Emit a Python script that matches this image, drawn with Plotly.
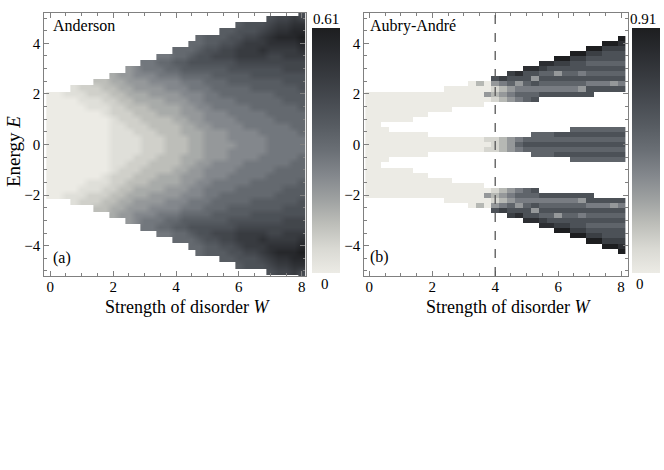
"""
Spectral maps for the Anderson and the Aubry-Andre models as a function of
the strength of disorder W. Grey level = value on each panel's colour bar.
"""

import numpy as np
import plotly.graph_objects as go

# disorder strength W at the centre of each column (both panels)
w_values = [0.0, 0.25, 0.5, 0.75, 1.0, 1.25, 1.5, 1.75, 2.0, 2.25, 2.5,
            2.75, 3.0, 3.25, 3.5, 3.75, 4.0, 4.25, 4.5, 4.75, 5.0, 5.25,
            5.5, 5.75, 6.0, 6.25, 6.5, 6.75, 7.0, 7.25, 7.5, 7.75, 8.0]

# energies of the rows for E >= 0 (the maps are mirrored to E < 0)
anderson_energies = [0.0, 0.25, 0.5, 0.75, 1.0, 1.25, 1.5, 1.75, 2.0, 2.25,
                     2.5, 2.75, 3.0, 3.25, 3.5, 3.75, 4.0, 4.25, 4.5, 4.75,
                     5.0, 5.25]
aubry_andre_energies = [0.0, 0.2, 0.4, 0.6, 0.8, 1.0, 1.2, 1.4, 1.6, 1.8,
                        2.0, 2.2, 2.4, 2.6, 2.8, 3.0, 3.2, 3.4, 3.6, 3.8,
                        4.0, 4.2, 4.4]

# one string per W column, read upwards from E = 0:
# hex digit = grey level (0 .. top level = colour-bar maximum),
# "." or missing = no states
anderson_top_level = 15
anderson_levels = [
    "000000000",
    "000000000",
    "000000001",
    "0000000011",
    "0000000112",
    "0000001122",
    "00000011223",
    "00000112233",
    "111112223344",
    "111122233445",
    "1112223344555",
    "1122233445566",
    "22223334455677",
    "22233344556677",
    "223334445567787",
    "333334455667887",
    "3333444556678988",
    "3344455566789988",
    "4444555667789a988",
    "4445556667789aa988",
    "5555666777889aaa99",
    "5556667778899aba99",
    "5556667788899abba99",
    "566667778899aabbaa9",
    "666677788899abccbaa9",
    "666777788899abcccbaa",
    "66677788899aabcccbaa",
    "66777788899aabcdccba",
    "77777888899aabbcddcba",
    "77778888999aabbcdedcb",
    "7777888999aabbccdedcb",
    "7778888999aabbccdeedc",
    "778888999aaabbcdefedba",
]

aubry_andre_top_level = 9
aubry_andre_levels = [
    "00000000000............",
    "00000000000............",
    "0000.000000............",
    "000..000000............",
    "000..000000............",
    "000..000000............",
    "000...00000............",
    "000...00000............",
    "00.....0000............",
    "00.....0000............",
    "00.....00000...........",
    "00......0000...........",
    "00......0000...........",
    "00......00000..........",
    "00......00002..........",
    "01.......0300..........",
    "11.......12136.........",
    "22.......23247.........",
    "33.......343567........",
    "54.......454368........",
    "65.......5545668.......",
    "655......6546368.......",
    "655.......6456578......",
    "655.......6456568......",
    "656.......64563679.....",
    "656.......64565679.....",
    "6565......645656679....",
    "6565......635646679....",
    "6565......6646565679...",
    "6565.......646565679...",
    "6565.......6465656679..",
    "6565.......6365656679..",
    "6565.......64656566789.",
]

anderson_max = 0.61
aubry_andre_max = 0.91
critical_w = 4  # dashed line in panel (b)

GRAY_TONES = [
    [0.0, "#ecebe5"], [0.1, "#d9d9d3"], [0.2, "#bdbeb9"], [0.3, "#9ea1a1"],
    [0.4, "#83878c"], [0.5, "#6a6f75"], [0.6, "#575c62"], [0.7, "#474b51"],
    [0.8, "#383b40"], [0.9, "#2a2c30"], [1.0, "#1d1e20"],
]
SERIF = "Liberation Serif"
W, H = 664, 470


def level_grid(columns, energies, top_level, zmax):
    z = np.full((len(energies), len(columns)), np.nan)
    for i, col in enumerate(columns):
        for k, ch in enumerate(col):
            if ch != ".":
                z[k, i] = int(ch, 16) / top_level * zmax
    # mirror E >= 0 onto E < 0
    e_full = [-e for e in energies[:0:-1]] + list(energies)
    return e_full, np.vstack([z[:0:-1], z])


def px(x):
    return x / W


def py(y):
    return 1 - y / H


def heatmap(columns, energies, top_level, zmax, axis, bar_left, smooth):
    e_full, z = level_grid(columns, energies, top_level, zmax)
    return go.Heatmap(
        x=w_values, y=e_full, z=z, zsmooth=smooth,
        colorscale=GRAY_TONES, zmin=0, zmax=zmax,
        xaxis=axis[0], yaxis=axis[1], hoverinfo="skip",
        colorbar=dict(
            x=px(bar_left), xanchor="left", y=py(150.5), yanchor="middle",
            len=245 / H, thickness=28, outlinewidth=0, xpad=0, ypad=0,
            ticks="", showticklabels=False,
        ),
    )


fig = go.Figure()
fig.add_trace(heatmap(anderson_levels, anderson_energies, anderson_top_level,
                      anderson_max, ("x", "y"), 312, "best"))
fig.add_trace(heatmap(aubry_andre_levels, aubry_andre_energies,
                      aubry_andre_top_level, aubry_andre_max, ("x2", "y2"),
                      632, False))

frame = dict(
    showline=True, linecolor="#808080", linewidth=1.2, mirror="allticks",
    ticks="inside", ticklen=5, tickcolor="#808080", showgrid=False,
    zeroline=False, tickfont=dict(family=SERIF, size=15, color="black"),
    minor=dict(ticks="inside", ticklen=2.5, tickcolor="#808080", showgrid=False),
)
x_frame = dict(frame, dtick=2, ticklabelstandoff=-3,
               minor=dict(frame["minor"], dtick=0.5))
y_frame = dict(frame, dtick=2, minor=dict(frame["minor"], dtick=0.5))
fig.update_layout(
    width=W, height=H, margin=dict(l=0, r=0, t=0, b=0),
    paper_bgcolor="white", plot_bgcolor="white", showlegend=False,
    xaxis=dict(x_frame, domain=[px(44.3), px(305.5)], range=[-0.19, 8.12],
               anchor="y"),
    yaxis=dict(y_frame, domain=[py(276), py(13)], range=[-5.2, 5.2],
               anchor="x"),
    xaxis2=dict(x_frame, domain=[px(364.3), px(627.7)], range=[-0.16, 8.21],
                anchor="y2"),
    yaxis2=dict(y_frame, domain=[py(276), py(13)], range=[-5.2, 5.2],
                anchor="x2"),
)

fig.add_shape(type="line", xref="x2", yref="y2 domain", x0=critical_w,
              x1=critical_w, y0=0, y1=1,
              line=dict(color="#555555", width=1.3, dash="dash"))


def label(text, x, y, size=16, xanchor="left", angle=0):
    fig.add_annotation(text=text, x=px(x), y=py(y), xref="paper", yref="paper",
                       xanchor=xanchor, yanchor="middle", showarrow=False,
                       textangle=angle,
                       font=dict(family=SERIF, size=size, color="black"))


label("Anderson", 51, 26)
label("(a)", 51, 258)
label("Aubry-André", 368, 26)
label("(b)", 368, 257)
label(f"{anderson_max}", 311, 19, 15)
label("0", 325, 284, 15, "center")
label(f"{aubry_andre_max}", 628, 19, 15)
label("0", 640, 284, 15, "center")
label("Energy <i>E</i>", 13, 152, 19, "center", -90)
label("Strength of disorder <i>W</i>", 187, 307, 18, "center")
label("Strength of disorder <i>W</i>", 508, 307, 18, "center")

# drop the page's default 8 px body margin so the figure sits at the corner
fig.write_html("out.html", config={"displayModeBar": False},
               post_script="document.body.style.margin = '0px';")
